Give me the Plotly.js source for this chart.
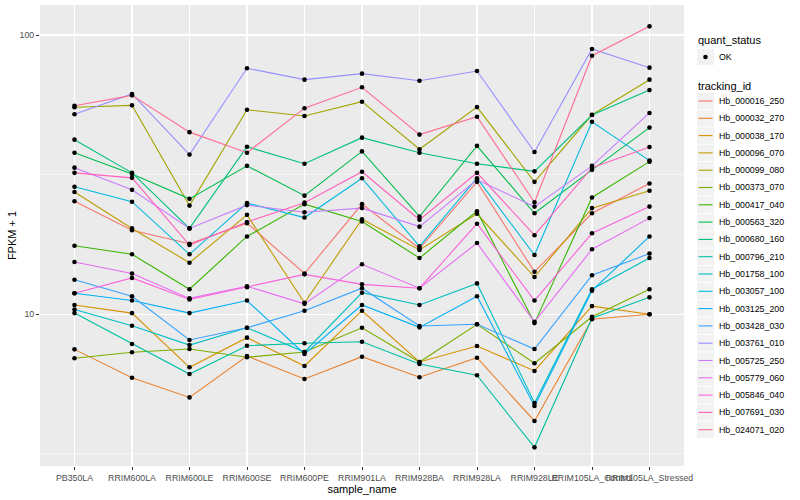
<!DOCTYPE html>
<html><head><meta charset="utf-8">
<script src="https://cdn.plot.ly/plotly-3.0.1.min.js"></script>
<style>html,body{margin:0;padding:0;background:#fff}#chart{width:800px;height:500px}</style>
</head><body><div id="chart"></div>
<script>
const samples = ["PB350LA","RRIM600LA","RRIM600LE","RRIM600SE","RRIM600PE","RRIM901LA","RRIM928BA","RRIM928LA","RRIM928LE","RRIM105LA_Control","RRIM105LA_Stressed"];
const trackingIds = ["Hb_000016_250","Hb_000032_270","Hb_000038_170","Hb_000096_070","Hb_000099_080","Hb_000373_070","Hb_000417_040","Hb_000563_320","Hb_000680_160","Hb_000796_210","Hb_001758_100","Hb_003057_100","Hb_003125_200","Hb_003428_030","Hb_003761_010","Hb_005725_250","Hb_005779_060","Hb_005846_040","Hb_007691_030","Hb_024071_020"];
const quantStatus = ["OK"];

// FPKM + 1 values per tracking_id, in sample order
const hb_000016_250 = [25.4, 20.0, 17.9, 21.2, 14.0, 24.8, 17.2, 29.8, 14.2, 23.0, 29.4];
const hb_000032_270 = [7.49, 5.93, 5.04, 7.09, 5.87, 7.05, 5.95, 6.99, 4.15, 9.60, 10.0];
const hb_000038_170 = [10.8, 10.1, 6.46, 8.25, 6.53, 10.3, 6.75, 7.70, 6.27, 10.7, 10.0];
const hb_000096_070 = [27.4, 20.3, 15.3, 22.7, 11.0, 21.9, 17.0, 22.9, 13.6, 24.0, 27.7];
const hb_000099_080 = [55.1, 56.0, 24.5, 54.0, 51.3, 57.7, 39.0, 55.2, 29.8, 51.8, 69.2];
const hb_000373_070 = [6.96, 7.31, 7.51, 7.02, 7.33, 8.95, 6.75, 9.21, 6.68, 9.80, 12.3];
const hb_000417_040 = [17.6, 16.4, 12.3, 19.0, 24.8, 21.5, 15.9, 23.4, 9.3, 26.2, 35.2];
const hb_000563_320 = [37.9, 31.8, 25.9, 34.0, 26.6, 38.3, 22.4, 40.1, 23.0, 32.9, 46.6];
const hb_000680_160 = [42.2, 32.1, 20.3, 39.8, 34.6, 42.9, 37.9, 34.6, 32.5, 51.7, 63.5];
const hb_000796_210 = [10.1, 7.83, 6.11, 7.72, 7.88, 7.98, 6.64, 6.05, 3.34, 9.68, 11.5];
const hb_001758_100 = [10.4, 9.10, 7.76, 8.95, 7.33, 11.95, 10.8, 12.9, 4.81, 12.3, 15.9];
const hb_003057_100 = [28.6, 25.3, 16.4, 25.0, 22.2, 30.7, 17.5, 30.7, 16.3, 48.9, 35.5];
const hb_003125_200 = [11.9, 11.2, 10.1, 11.2, 7.21, 10.8, 8.98, 11.6, 4.70, 12.15, 19.0];
const hb_003428_030 = [13.3, 11.6, 8.09, 8.95, 10.3, 12.4, 9.08, 9.21, 7.51, 13.8, 16.5];
const hb_003761_010 = [52.0, 61.5, 37.3, 76.0, 69.2, 72.7, 68.6, 74.3, 38.1, 89.1, 76.4];
const hb_005725_250 = [33.5, 27.9, 20.3, 24.6, 23.2, 24.0, 20.6, 30.3, 24.3, 34.0, 52.6];
const hb_005779_060 = [15.4, 14.0, 11.4, 12.6, 10.9, 15.1, 12.4, 18.0, 9.4, 17.1, 22.1];
const hb_005846_040 = [11.9, 13.5, 11.3, 12.5, 13.9, 12.8, 12.4, 21.1, 11.2, 19.5, 24.3];
const hb_007691_030 = [32.1, 30.8, 17.7, 21.4, 25.1, 32.4, 21.8, 32.1, 19.2, 33.5, 39.7];
const hb_024071_020 = [55.8, 60.8, 44.9, 37.9, 54.7, 65.0, 44.0, 51.0, 25.2, 84.3, 107.4];

const yTickVals = [10, 100];
const yTickText = ["10", "100"];

const seriesValues = [hb_000016_250, hb_000032_270, hb_000038_170, hb_000096_070, hb_000099_080, hb_000373_070, hb_000417_040, hb_000563_320, hb_000680_160, hb_000796_210, hb_001758_100, hb_003057_100, hb_003125_200, hb_003428_030, hb_003761_010, hb_005725_250, hb_005779_060, hb_005846_040, hb_007691_030, hb_024071_020];
const palette = ["#F8766D","#EA8331","#D89000","#C09B00","#A3A500","#7CAE00","#39B600","#00BB4E","#00BF7D","#00C1A3","#00BFC4","#00BAE0","#00B0F6","#35A2FF","#9590FF","#C77CFF","#E76BF3","#FA62DB","#FF62BC","#FF6C91"];

const FONT = "Liberation Sans, Arial, Helvetica, sans-serif";
const W = 800, H = 500, M = {l: 40, r: 116, t: 5, b: 34};
const PW = W - M.l - M.r, PH = H - M.t - M.b;
const fx = p => (p - M.l) / PW;          // pixel x -> paper x (for the legend layout)
const fy = p => (H - M.b - p) / PH;      // pixel y -> paper y

const traces = [];
trackingIds.forEach((id, i) => {
  traces.push({
    type: "scatter", mode: "lines", name: id, showlegend: false,
    x: samples, y: seriesValues[i],
    line: {color: palette[i], width: 1.1}, hoverinfo: "skip"
  });
});
const px = [], py = [];
seriesValues.forEach(vals => vals.forEach((v, j) => { px.push(samples[j]); py.push(v); }));
traces.push({
  type: "scatter", mode: "markers", name: quantStatus[0], showlegend: false,
  x: px, y: py, marker: {color: "#000", size: 4.6}, hoverinfo: "skip"
});

// ggplot-style legends (two guides), laid out in paper space
const shapes = [], annotations = [];
const keyX0 = 697, keyX1 = 714, textX = 716.5;
function title(text, y) {
  annotations.push({xref: "paper", yref: "paper", x: fx(696), y: fy(y), xanchor: "left", yanchor: "middle",
    text: text, showarrow: false, font: {family: FONT, size: 11, color: "#000"}});
}
function keyBox(cy) {
  shapes.push({type: "rect", xref: "paper", yref: "paper", x0: fx(keyX0), x1: fx(keyX1), y0: fy(cy - 8.2), y1: fy(cy + 8.2),
    fillcolor: "#F2F2F2", line: {width: 0}, layer: "below"});
}
function label(text, cy) {
  annotations.push({xref: "paper", yref: "paper", x: fx(textX), y: fy(cy), xanchor: "left", yanchor: "middle",
    text: text, showarrow: false, font: {family: FONT, size: 8.8, color: "#000"}});
}
title("quant_status", 40);
quantStatus.forEach((q, i) => {
  const cy = 57 + i * 17.3;
  keyBox(cy);
  shapes.push({type: "circle", xref: "paper", yref: "paper", x0: fx(703.2), x1: fx(707.8), y0: fy(cy - 2.3), y1: fy(cy + 2.3),
    fillcolor: "#000", line: {width: 0}});
  label(q, cy);
});
title("tracking_id", 86);
trackingIds.forEach((id, i) => {
  const cy = 101 + i * 17.3;
  keyBox(cy);
  shapes.push({type: "line", xref: "paper", yref: "paper", x0: fx(698.5), x1: fx(712.5), y0: fy(cy), y1: fy(cy),
    line: {color: palette[i], width: 1.1}});
  label(id, cy);
});

const layout = {
  width: W, height: H, margin: M,
  paper_bgcolor: "#fff", plot_bgcolor: "#EBEBEB",
  font: {family: FONT, color: "#000"},
  showlegend: false,
  xaxis: {
    type: "category", categoryorder: "array", categoryarray: samples,
    range: [-0.6, 10.6], showgrid: true, gridcolor: "#fff", gridwidth: 1.1,
    zeroline: false, showline: false, ticks: "outside", ticklen: 3, tickwidth: 1, tickcolor: "#333",
    tickangle: 0, tickfont: {family: FONT, size: 8.8, color: "#4D4D4D"},
    title: {text: "sample_name", font: {family: FONT, size: 11, color: "#000"}, standoff: 2},
    automargin: false, fixedrange: true
  },
  yaxis: {
    type: "log", range: [0.4569, 2.1074],
    tickmode: "array", tickvals: yTickVals, ticktext: yTickText,
    showgrid: true, gridcolor: "#fff", gridwidth: 1.1,
    minor: {tickmode: "array", tickvals: [3.1623, 31.623], showgrid: true, gridcolor: "#fff", gridwidth: 0.55, ticks: ""},
    zeroline: false, showline: false, ticks: "outside", ticklen: 3, tickwidth: 1, tickcolor: "#333",
    tickfont: {family: FONT, size: 8.8, color: "#4D4D4D"},
    title: {text: "FPKM + 1", font: {family: FONT, size: 11, color: "#000"}, standoff: 0},
    automargin: false, fixedrange: true
  },
  shapes: shapes,
  annotations: annotations
};
Plotly.newPlot("chart", traces, layout, {displayModeBar: false, staticPlot: true});
</script></body></html>
